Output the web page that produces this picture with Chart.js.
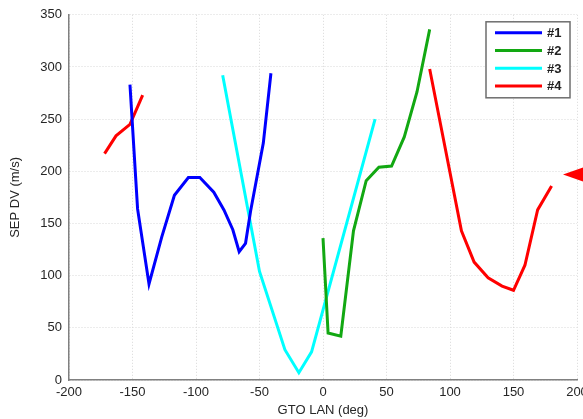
<!DOCTYPE html>
<html>
<head>
<meta charset="utf-8">
<script src="https://cdn.jsdelivr.net/npm/chart.js@4.4.1/dist/chart.umd.min.js"></script>
<style>
  html, body { margin: 0; padding: 0; background: #fff; }
  #wrap { width: 583px; height: 419px; position: relative; }
</style>
</head>
<body>
<div id="wrap"><canvas id="dvChart"></canvas></div>
<script>
// values (x = GTO LAN deg, y = SEP DV m/s)
const seriesNames = ['#1', '#2', '#3', '#4'];

const blueX = [-152, -146, -137, -127, -117, -106, -97, -86, -78, -71, -66, -61, -57, -47, -41];
const blueY = [283, 164, 92, 137, 177, 194, 194, 180, 163, 144, 123, 131, 162, 227, 294];

const greenX = [0, 4, 14, 24, 34, 44, 54, 64, 74, 84];
const greenY = [136, 45, 42, 143, 191, 204, 205, 233, 276, 336];

const cyanX = [-79, -50, -30, -19, -9, 41];
const cyanY = [292, 104, 29, 7, 27, 250];

// red is drawn in two pieces, null splits them
const redX = [-172, -163, -152, -142, 0, 84, 109, 119, 130, 141, 150, 159, 169, 180];
const redY = [217, 234, 245, 273, null, 298, 143, 113, 98, 90, 86, 110, 163, 186];

const xTicks = [-200, -150, -100, -50, 0, 50, 100, 150, 200];
const yTicks = [0, 50, 100, 150, 200, 250, 300, 350];

// the red arrow at the right edge
const arrowAt = { x: 189, y: 197 };

const colors = ['#0000ff', '#12a812', '#00ffff', '#ff0000'];

function pts(xs, ys) {
  return xs.map((x, i) => ({ x: x, y: ys[i] }));
}

const FONT = "'Liberation Sans', Arial, sans-serif";

// legend box drawn inside the plot, top right
const boxLegend = {
  id: 'boxLegend',
  afterDraw(chart) {
    const ctx = chart.ctx;
    const area = chart.chartArea;
    const w = 84, h = 76;
    const left = area.right - 7 - w;
    const top = area.top + 7;
    ctx.save();
    ctx.fillStyle = '#fff';
    ctx.fillRect(left, top, w, h);
    ctx.strokeStyle = '#6e6e6e';
    ctx.lineWidth = 1.5;
    ctx.strokeRect(left, top, w, h);
    ctx.font = 'bold 13px ' + FONT;
    ctx.textBaseline = 'middle';
    chart.data.datasets.forEach((ds, i) => {
      const y = top + 11 + i * 17.7;
      ctx.strokeStyle = ds.borderColor;
      ctx.lineWidth = 3;
      ctx.beginPath();
      ctx.moveTo(left + 9, y);
      ctx.lineTo(left + 56, y);
      ctx.stroke();
      ctx.fillStyle = '#222';
      ctx.fillText(ds.label, left + 61, y + 1);
    });
    ctx.restore();
  }
};

const arrowMark = {
  id: 'arrowMark',
  afterDraw(chart) {
    const ctx = chart.ctx;
    const px = chart.scales.x.getPixelForValue(arrowAt.x);
    const py = chart.scales.y.getPixelForValue(arrowAt.y);
    ctx.save();
    ctx.fillStyle = '#ff0000';
    ctx.beginPath();
    ctx.moveTo(px, py);
    ctx.lineTo(px + 20, py - 7);
    ctx.lineTo(px + 20, py + 7);
    ctx.closePath();
    ctx.fill();
    ctx.restore();
  }
};

const ctx = document.getElementById('dvChart').getContext('2d');

const chart = new Chart(ctx, {
  type: 'line',
  data: {
    datasets: [
      { label: seriesNames[0], data: pts(blueX, blueY), borderColor: colors[0] },
      { label: seriesNames[1], data: pts(greenX, greenY), borderColor: colors[1] },
      { label: seriesNames[2], data: pts(cyanX, cyanY), borderColor: colors[2] },
      { label: seriesNames[3], data: pts(redX, redY), borderColor: colors[3] }
    ].map(d => Object.assign(d, {
      borderWidth: 3,
      pointRadius: 0,
      fill: false,
      tension: 0,
      spanGaps: false
    }))
  },
  options: {
    responsive: true,
    maintainAspectRatio: false,
    animation: false,
    layout: { padding: { top: 14, right: 6, left: 0, bottom: 0 } },
    plugins: {
      legend: { display: false },
      tooltip: { enabled: false }
    },
    scales: {
      x: {
        type: 'linear',
        min: -200,
        max: 200,
        afterBuildTicks: s => { s.ticks = xTicks.map(v => ({ value: v })); },
        afterFit: s => { s.height = 39; s.paddingLeft = 0; s.paddingRight = 0; },
        grid: { color: '#d8d8d8', drawTicks: false },
        border: { color: '#808080', width: 1.5, dash: [1, 2] },
        ticks: { color: '#262626', padding: 5, font: { family: FONT, size: 13 } },
        title: {
          display: true,
          text: 'GTO LAN (deg)',
          color: '#262626',
          padding: { top: 0, bottom: 1 },
          font: { family: FONT, size: 13 }
        }
      },
      y: {
        type: 'linear',
        min: 0,
        max: 350,
        afterBuildTicks: s => { s.ticks = yTicks.map(v => ({ value: v })); },
        afterFit: s => { s.width = 69; },
        grid: { color: '#d8d8d8', drawTicks: false },
        border: { color: '#808080', width: 1.5, dash: [1, 2] },
        ticks: { color: '#262626', padding: 7, font: { family: FONT, size: 13 } },
        title: {
          display: true,
          text: 'SEP DV (m/s)',
          color: '#262626',
          padding: { top: 8, bottom: 0 },
          font: { family: FONT, size: 13 }
        }
      }
    }
  },
  plugins: [boxLegend, arrowMark]
});
</script>
</body>
</html>
